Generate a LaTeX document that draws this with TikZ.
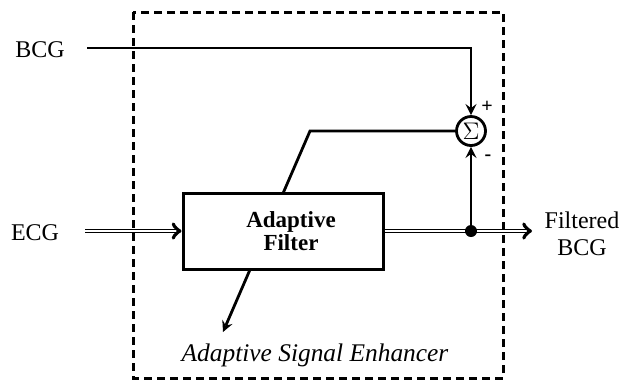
\documentclass[tikz,border=0pt]{standalone}
\usepackage{fontspec}
\setmainfont{Liberation Serif}
\tikzset{>=stealth}

\begin{document}
\begin{tikzpicture}[x=0.5pt,y=-0.5pt,font=\fontsize{12}{13.5}\selectfont,
  sig/.style={line width=1.4pt},
  dbl/.style={double,double distance=1pt,line width=0.5pt}]
\useasboundingbox (0,0) rectangle (626,382);
% enhancer frame
\draw[line width=1.5pt,dash pattern=on 4pt off 2.5pt] (133,12) rectangle (503,378);
\node[font=\itshape\fontsize{12.7}{14}\selectfont] (ase) at (315,355) {Adaptive Signal Enhancer};
% summing junction
\node[draw,circle,line width=1.4pt,minimum size=14.5pt,inner sep=0pt] (sum) at (471,131) {$\Sigma$};
\node[font=\bfseries] (plus) at (487,107) {+};
\node[font=\bfseries] (minus) at (488,158) {-};
% error signal, drawn under the filter
\coordinate (ekink) at (310,131);
\coordinate (etip) at (223,332);
\draw[sig,->] (sum.west) -- (ekink) -- (etip);
\node[draw,fill=white,line width=1.5pt,minimum width=100pt,minimum height=38pt,
  align=center,font=\bfseries\fontsize{11.5}{10}\selectfont] (filt) at (283,231)
  {\hspace*{8pt}Adaptive\\\hspace*{8pt}Filter};
% inputs and output
\node (bcg) at (40,50) {BCG};
\node (ecg) at (35,233) {ECG};
\node[align=center] (out) at (582,234) {Filtered\\BCG};
\coordinate (bcgin) at (87,48);
\coordinate (ecgin) at (85,231);
\coordinate (outend) at (532,231);
\coordinate (tap) at (471,231);
\draw[sig,->] (bcgin) -| (sum.north);
\draw[dbl,-to] (ecgin) -- (filt.west);
\draw[dbl,-to] (filt.east) -- (outend);
\fill (tap) circle (3pt);
\draw[sig,->] (tap) -- (sum.south);
\end{tikzpicture}
\end{document}
